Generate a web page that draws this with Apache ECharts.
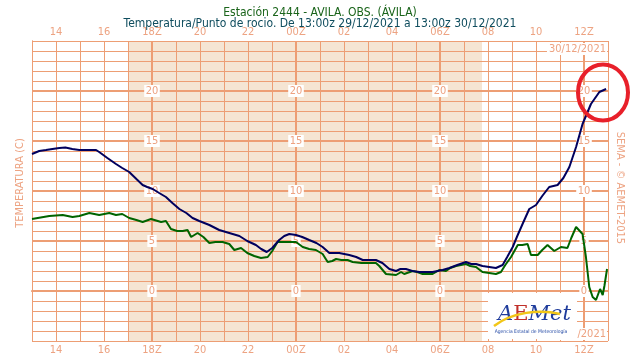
<!DOCTYPE html>
<html><head><meta charset="utf-8">
<script src="https://cdn.jsdelivr.net/npm/echarts@6/dist/echarts.min.js"></script>
<style>html,body{margin:0;padding:0;background:#fff}#c{width:640px;height:360px}</style>
</head><body><div id="c"></div>
<script>
// Hours since 13:00z 29/12/2021
const tempHours = [0.00,0.30,0.58,0.85,1.14,1.39,1.68,1.97,2.39,2.67,2.80,3.14,3.50,3.76,4.05,4.35,4.61,4.80,5.03,5.30,5.58,5.85,6.14,6.43,6.69,6.97,7.39,7.80,8.22,8.64,8.97,9.33,9.55,9.78,10.01,10.30,10.51,10.72,11.00,11.26,11.55,11.85,12.11,12.39,12.80,13.22,13.51,13.78,14.33,14.60,14.89,15.17,15.35,15.58,15.85,16.14,16.69,17.11,17.39,17.72,18.08,18.30,18.50,18.77,19.33,19.61,19.80,20.03,20.22,20.44,20.72,21.00,21.26,21.55,21.90,22.14,22.39,22.67,22.94,23.29,23.64,23.92];
const tempValues = [13.7,14.0,14.1,14.2,14.3,14.35,14.2,14.1,14.1,14.1,13.9,13.3,12.7,12.3,11.9,11.2,10.6,10.4,10.2,9.8,9.4,8.8,8.2,7.8,7.3,7.0,6.6,6.1,5.8,5.5,5.0,4.6,4.2,3.9,4.3,5.1,5.5,5.7,5.6,5.4,5.1,4.8,4.4,3.8,3.8,3.6,3.4,3.1,3.1,2.8,2.2,2.0,2.2,2.2,2.0,1.9,1.9,2.1,2.3,2.6,2.9,2.7,2.7,2.5,2.3,2.6,3.4,4.4,5.5,6.7,8.2,8.6,9.5,10.4,10.6,11.3,12.4,14.4,16.7,18.7,19.9,20.2];
const dewHours = [0.00,0.72,1.28,1.69,1.97,2.39,2.80,3.22,3.50,3.76,4.05,4.35,4.61,4.96,5.38,5.58,5.79,6.05,6.28,6.48,6.63,6.90,7.14,7.39,7.64,7.94,8.22,8.43,8.71,8.97,9.26,9.54,9.82,10.01,10.23,10.72,11.00,11.28,11.55,11.83,12.11,12.32,12.51,12.67,12.89,13.15,13.36,13.72,14.05,14.33,14.47,14.75,15.17,15.38,15.51,15.86,16.05,16.28,16.69,16.97,17.25,17.43,17.67,18.08,18.26,18.50,18.77,19.05,19.33,19.54,19.72,19.96,20.24,20.43,20.65,20.79,21.07,21.26,21.48,21.76,22.04,22.31,22.47,22.67,22.94,23.08,23.22,23.36,23.50,23.67,23.78,23.85,23.96];
const dewValues = [7.2,7.5,7.6,7.4,7.5,7.8,7.6,7.8,7.6,7.7,7.3,7.1,6.9,7.2,6.9,7.0,6.2,6.0,6.0,6.1,5.4,5.8,5.4,4.8,4.9,4.9,4.7,4.1,4.3,3.8,3.5,3.3,3.4,4.0,4.9,4.9,4.9,4.4,4.2,4.1,3.7,2.9,3.0,3.2,3.1,3.1,2.9,2.8,2.8,2.8,2.5,1.7,1.6,1.9,1.7,2.0,1.9,1.7,1.7,2.1,2.0,2.3,2.5,2.7,2.5,2.4,1.9,1.8,1.7,1.9,2.6,3.4,4.6,4.6,4.7,3.6,3.6,4.1,4.6,4.0,4.4,4.3,5.3,6.4,5.7,3.4,0.4,-0.6,-0.9,0.2,-0.4,0.5,2.2];
const xTickHours = [1,3,5,7,9,11,13,15,17,19,21,23];
const xTickLabels = ['14','16','18Z','20','22','00Z','02','04','06Z','08','10','12Z'];
const synopHours = [5,11,17,23];
const yTickValues = [0,5,10,15,20];
const nightStart = 4, nightEnd = 18.75;

const SAL = '#ED9E74', SALT = '#EDA382', BEIGE = '#F5E5D3';
const FONT = 'DejaVu Sans Condensed';
const pair = (xs, ys) => xs.map((x, i) => [x, ys[i]]);
const xLab = v => { const i = xTickHours.indexOf(v); return i >= 0 ? xTickLabels[i] : ''; };
const yLabelData = [];
synopHours.forEach(h => yTickValues.forEach(v => yLabelData.push([h, v])));

const chart = echarts.init(document.getElementById('c'), null, {renderer: 'canvas'});
chart.setOption({
  animation: false,
  backgroundColor: '#fff',
  title: [
    {text: 'Estación 2444 - AVILA. OBS. (ÁVILA)', left: 'center', top: 2,
     textStyle: {fontFamily: FONT, fontSize: 12, fontWeight: 'normal', color: '#1A641A'}},
    {text: 'Temperatura/Punto de rocio. De 13:00z 29/12/2021 a 13:00z 30/12/2021', left: 'center', top: 13,
     textStyle: {fontFamily: FONT, fontSize: 12, fontWeight: 'normal', color: '#0F4D5E'}}
  ],
  grid: {left: 32, top: 41, width: 576, height: 300, show: false},
  xAxis: [
    {type: 'value', position: 'bottom', min: 0, max: 24, interval: 1, z: 1,
     axisLine: {show: true, lineStyle: {color: SAL, width: 1}}, axisTick: {show: false},
     axisLabel: {formatter: xLab, color: SALT, fontFamily: FONT, fontSize: 11, margin: 4},
     splitLine: {show: true, lineStyle: {color: SAL, width: 1}}},
    {type: 'value', position: 'top', min: 0, max: 24, interval: 1, z: 1,
     axisLine: {show: true, lineStyle: {color: SAL, width: 2}}, axisTick: {show: false},
     axisLabel: {formatter: xLab, color: SALT, fontFamily: FONT, fontSize: 11, margin: 3},
     splitLine: {show: false}}
  ],
  yAxis: [
    {type: 'value', position: 'left', min: -5, max: 25, interval: 1, z: 1,
     axisLine: {show: true, lineStyle: {color: SAL, width: 1}}, axisTick: {show: false},
     axisLabel: {show: false}, splitLine: {show: true, lineStyle: {color: SAL, width: 1}}},
    {type: 'value', position: 'right', min: -5, max: 25, interval: 1, z: 1,
     axisLine: {show: true, lineStyle: {color: SAL, width: 1}}, axisTick: {show: false},
     axisLabel: {show: false}, splitLine: {show: false}}
  ],
  series: [
    {type: 'custom', z: 0, silent: true, data: [[nightStart, nightEnd]],
     encode: {x: [0, 1]},
     renderItem: (params, api) => {
       const cs = params.coordSys;
       const a = api.coord([api.value(0), 0])[0], b = api.coord([api.value(1), 0])[0];
       return {type: 'rect', shape: {x: a, y: cs.y, width: b - a, height: cs.height}, style: {fill: BEIGE}};
     }},
    {type: 'custom', z: 1.5, silent: true, data: synopHours.map(h => [h, 0]),
     renderItem: (params, api) => {
       const cs = params.coordSys; const x = api.coord([api.value(0), 0])[0];
       return {type: 'line', shape: {x1: x, y1: cs.y, x2: x, y2: cs.y + cs.height}, style: {stroke: SAL, lineWidth: 2}};
     }},
    {type: 'custom', z: 1.5, silent: true, data: yTickValues.map(v => [0, v]),
     renderItem: (params, api) => {
       const cs = params.coordSys; const y = api.coord([0, api.value(1)])[1];
       return {type: 'line', shape: {x1: cs.x, y1: y, x2: cs.x + cs.width, y2: y}, style: {stroke: SAL, lineWidth: 2}};
     }},
    {type: 'custom', z: 2, silent: true, data: yLabelData,
     renderItem: (params, api) => {
       const p = api.coord([api.value(0), api.value(1)]);
       const t = String(api.value(1)); const w = t.length * 6.3 + 3;
       return {type: 'group', children: [
         {type: 'rect', shape: {x: p[0] - w / 2, y: p[1] - 6, width: w, height: 12}, style: {fill: '#fff'}},
         {type: 'text', x: p[0], y: p[1] + 0.5, style: {text: t, fill: SALT, font: '11px "' + FONT + '"', align: 'center', verticalAlign: 'middle'}}
       ]};
     }},
    {type: 'line', name: 'Punto de rocio', data: pair(dewHours, dewValues), z: 3, showSymbol: false,
     lineStyle: {color: '#006400', width: 2}, itemStyle: {color: '#006400'}},
    {type: 'line', name: 'Temperatura', data: pair(tempHours, tempValues), z: 4, showSymbol: false,
     lineStyle: {color: '#00005E', width: 2}, itemStyle: {color: '#00005E'}}
  ],
  graphic: [
    {type: 'text', x: 20, y: 183, rotation: Math.PI / 2, z: 10,
     style: {text: 'TEMPERATURA (C)', fill: SALT, font: '11px "' + FONT + '"', textAlign: 'center', textVerticalAlign: 'middle'}},
    {type: 'text', x: 620, y: 188, rotation: -Math.PI / 2, z: 10,
     style: {text: 'SEMA - © AEMET-2015', fill: SALT, font: '11px "' + FONT + '"', textAlign: 'center', textVerticalAlign: 'middle'}},
    {type: 'text', x: 607, y: 49, z: 10,
     style: {text: '30/12/2021', fill: SALT, font: '11px "' + FONT + '"', textAlign: 'right', textVerticalAlign: 'middle', backgroundColor: '#fff', padding: [1, 1, 0, 2]}},
    {type: 'text', x: 607, y: 334, z: 10,
     style: {text: '30/12/2021', fill: SALT, font: '11px "' + FONT + '"', textAlign: 'right', textVerticalAlign: 'middle', backgroundColor: '#fff', padding: [1, 1, 0, 2]}},
    {type: 'group', z: 20, children: [
      {type: 'rect', shape: {x: 488, y: 293, width: 89, height: 46}, style: {fill: '#fff'}, z: 20},
      {type: 'bezierCurve', z: 22, shape: {x1: 494, y1: 326, x2: 560, y2: 314, cpx1: 512, cpy1: 312, cpx2: 540, cpy2: 309},
       style: {stroke: '#F2C617', lineWidth: 2.5, fill: null}},
      {type: 'text', x: 498, y: 304, z: 21,
       style: {text: '{a|A}{e|E}{m|Met}', font: 'italic 20px "DejaVu Serif"',
         rich: {a: {fill: '#1F3C9C', font: 'italic 21px "DejaVu Serif"'}, e: {fill: '#C0302A', font: '21px "DejaVu Serif"'}, m: {fill: '#1F3C9C', font: 'italic 21px "DejaVu Serif"'}}}},
      {type: 'text', x: 531, y: 332, z: 21,
       style: {text: 'Agencia Estatal de Meteorología', fill: '#2A4FA8', font: '5px "DejaVu Sans Condensed"', textAlign: 'center', textVerticalAlign: 'middle'}}
    ]},
    {type: 'ellipse', z: 30, shape: {cx: 603, cy: 92.5, rx: 25, ry: 28},
     style: {fill: null, stroke: '#E8202A', lineWidth: 4}}
  ]
});
</script></body></html>
